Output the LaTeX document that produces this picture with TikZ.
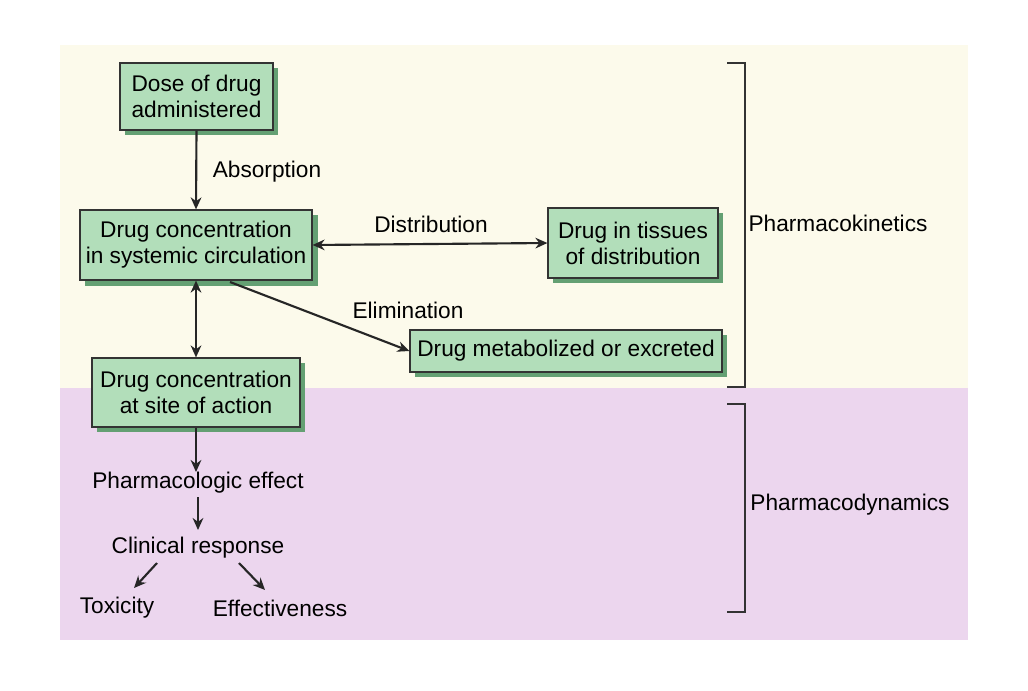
\documentclass[tikz,border=0pt]{standalone}
\usepackage{fontspec}
\setmainfont{Liberation Sans}
\usetikzlibrary{arrows.meta}
\definecolor{boxfill}{RGB}{178,222,186}
\definecolor{shadowgreen}{RGB}{100,160,115}
\definecolor{cream}{RGB}{252,250,235}
\definecolor{pinkbg}{RGB}{236,214,238}
\begin{document}
\begin{tikzpicture}[x=0.75pt,y=-0.75pt,
  font=\fontsize{17}{19.5}\selectfont,
  box/.style 2 args={draw=black!80,line width=0.9pt,fill=boxfill,align=center,inner sep=0pt,
    minimum width={#1*0.75pt},minimum height={#2*0.75pt}},
  arr/.style={-{Stealth[length=9pt,width=8pt]},line width=1.6pt,black!85},
  darr/.style={{Stealth[length=9pt,width=8pt]}-{Stealth[length=9pt,width=8pt]},line width=1.6pt,black!85},
  lbl/.style={inner sep=1pt},
  brk/.style={line width=0.9pt,black!80}]
\useasboundingbox (0,0) rectangle (1028,690);
\fill[white] (0,0) rectangle (1028,690);
\fill[cream] (60,45) rectangle (968,388);
\fill[pinkbg] (60,388) rectangle (968,640);
% shadows
\fill[shadowgreen] (125,68) rectangle (278,135);
\fill[shadowgreen] (85,215) rectangle (318,286);
\fill[shadowgreen] (553,213) rectangle (723,283);
\fill[shadowgreen] (415,335) rectangle (727,377);
\fill[shadowgreen] (97,363) rectangle (305,432);
% boxes
\node[box={153}{67}] (dose) at (196.5,96.5) {Dose of drug\\administered};
\node[box={232}{70}] (sys) at (196,245) {Drug concentration\\in systemic circulation};
\node[box={170}{70}] (tis) at (633,243) {Drug in tissues\\of distribution};
\node[box={312}{42}] (met) at (566,351) {Drug metabolized or excreted};
\node[box={208}{69}] (site) at (196,392.5) {Drug concentration\\at site of action};
% labels
\node[lbl] (abs) at (267,172) {Absorption};
\node[lbl] (dis) at (431,224) {Distribution};
\node[lbl] (eli) at (408,310) {Elimination};
\node[lbl] (pe) at (198,483) {Pharmacologic effect};
\node[lbl] (cr) at (198,548) {Clinical response};
\node[lbl] (tox) at (117,608) {Toxicity};
\node[lbl] (eff) at (280,608) {Effectiveness};
\node[lbl] (pk) at (838,223) {Pharmacokinetics};
\node[lbl] (pd) at (850,505) {Pharmacodynamics};
% arrows
\draw[arr] (dose.south) -- (sys.north);
\draw[darr] (sys.east) -- (tis.west);
\coordinate (e0) at (230,282);
\draw[arr] (e0) -- (met.west);
\draw[darr] (sys.south) -- (site.north);
\coordinate (p1) at (196,472);
\draw[arr] (site.south) -- (p1);
\coordinate (p2) at (198,497);
\coordinate (p3) at (198,530);
\draw[arr] (p2) -- (p3);
\coordinate (c1) at (157,563); \coordinate (c1e) at (134,588);
\coordinate (c2) at (239,563); \coordinate (c2e) at (265,590);
\draw[arr] (c1) -- (c1e);
\draw[arr] (c2) -- (c2e);
% brackets
\draw[brk] (727,63) -- (745,63) -- (745,387) -- (727,387);
\draw[brk] (727,404) -- (745,404) -- (745,612) -- (727,612);
\end{tikzpicture}
\end{document}
